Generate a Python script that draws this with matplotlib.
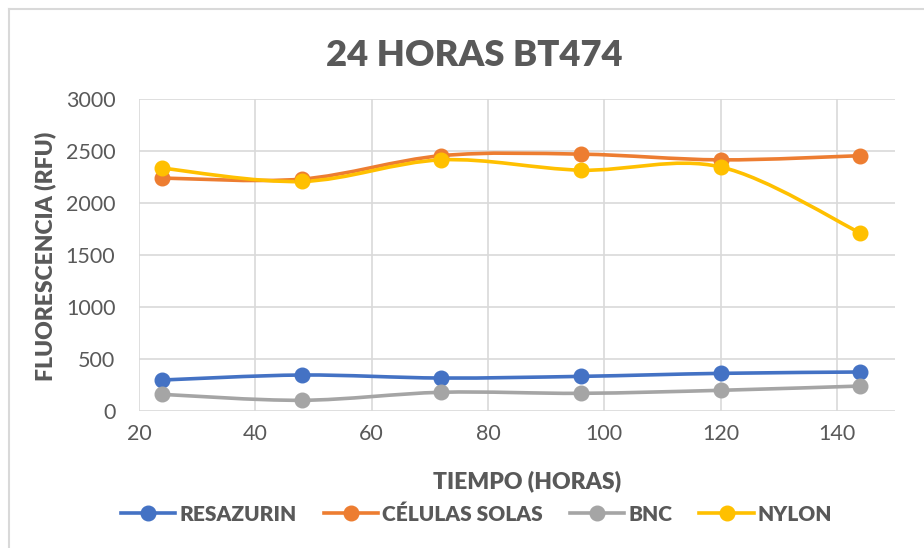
import numpy as np
import matplotlib
matplotlib.use("Agg")
import matplotlib.pyplot as plt
from matplotlib.path import Path
from matplotlib.patches import PathPatch
from matplotlib.lines import Line2D

plt.rcParams['font.family'] = ['Lato', 'DejaVu Sans']

# data
hours = [24, 48, 72, 96, 120, 144]
resazurin = [298, 346, 317, 333, 362, 375]
celulas_solas = [2240, 2230, 2455, 2470, 2415, 2455]
bnc = [160, 103, 180, 170, 199, 240]
nylon = [2335, 2207, 2415, 2316, 2347, 1713]

series = [
    ("RESAZURIN", resazurin, "#4472c4"),
    ("CÉLULAS SOLAS", celulas_solas, "#ed7d31"),
    ("BNC", bnc, "#a5a5a5"),
    ("NYLON", nylon, "#ffc000"),
]

TEXT = "#595959"
GRID = "#d9d9d9"


def smooth_path(x, y):
    """Excel-like smoothed line as cubic bezier segments through the points."""
    pts = np.column_stack([x, y]).astype(float)
    ext = np.vstack([pts[0], pts, pts[-1]])
    verts = [pts[0]]
    codes = [Path.MOVETO]
    for i in range(1, len(ext) - 2):
        p0, p1, p2, p3 = ext[i - 1], ext[i], ext[i + 1], ext[i + 2]
        c1 = p1 + (p2 - p0) / 6.0
        c2 = p2 - (p3 - p1) / 6.0
        verts += [c1, c2, p2]
        codes += [Path.CURVE4] * 3
    return Path(verts, codes)


fig = plt.figure(figsize=(9.24, 5.48), dpi=100)
ax = fig.add_axes([0.1504, 0.25, 0.8182, 0.5693])

for name, vals, color in series:
    patch = PathPatch(smooth_path(hours, vals), facecolor="none", edgecolor=color,
                      lw=2.6, capstyle="round", zorder=3)
    ax.add_patch(patch)
    ax.plot(hours, vals, linestyle="none", marker="o", ms=10.5, color=color, zorder=4)

ax.set_xlim(20, 150)
ax.set_ylim(0, 3000)
ax.set_xticks(range(20, 141, 20))
ax.set_yticks(range(0, 3001, 500))
ax.grid(True, color=GRID, lw=1.2)
ax.set_axisbelow(True)
for s in ax.spines.values():
    s.set_visible(False)
ax.tick_params(axis="y", length=0, labelsize=15.5, labelcolor=TEXT, pad=17)
ax.tick_params(axis="x", length=0, labelsize=15.5, labelcolor=TEXT, pad=9)

fig.text(0.513, 0.898, "24 HORAS BT474", fontsize=26.2, fontweight="heavy", color=TEXT,
         ha="center", va="center")
fig.text(0.570, 0.122, "TIEMPO (HORAS)", fontsize=16.5, fontweight="heavy", color=TEXT,
         ha="center", va="center")
fig.text(0.049, 0.533, "FLUORESCENCIA (RFU)", fontsize=16.5, fontweight="heavy", color=TEXT,
         ha="center", va="center", rotation=90)

handles = [Line2D([], [], color=c, lw=2.6, marker="o", ms=10.5) for _, _, c in series]
fig.legend(handles, [n for n, _, _ in series], loc="center", bbox_to_anchor=(0.516, 0.062),
           ncol=4, frameon=False, handlelength=2.6, columnspacing=1.3, handletextpad=0.2,
           prop={"size": 15, "weight": "heavy"}, labelcolor=TEXT)

# chart area border (top and left edges visible)
fig.add_artist(Line2D([9 / 924, 1], [1 - 9 / 548, 1 - 9 / 548], color=GRID, lw=1.5,
                      transform=fig.transFigure))
fig.add_artist(Line2D([9 / 924, 9 / 924], [0, 1 - 9 / 548], color=GRID, lw=1.5,
                      transform=fig.transFigure))

fig.savefig("out.png", dpi=100)
